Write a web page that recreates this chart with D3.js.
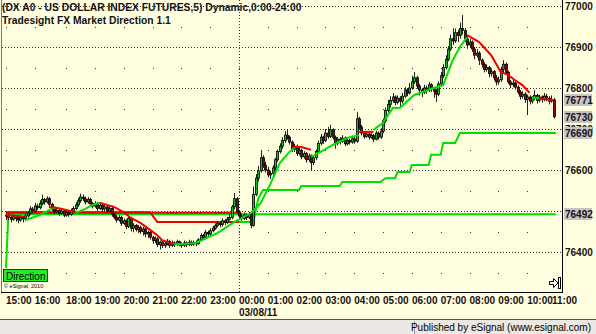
<!DOCTYPE html>
<html>
<head>
<meta charset="utf-8">
<script src="https://cdnjs.cloudflare.com/ajax/libs/d3/7.8.5/d3.min.js"></script>
<style>
body { margin: 0; background: #ece9e4; overflow: hidden; }
text { font-family: Arial, "Liberation Sans", sans-serif; }
</style>
</head>
<body>
<div id="chart"></div>
<script>
width = 596;
height = 334;

// plot frame
plotLeft = 2;
plotRight = 562;
plotBottom = 292;

var titleLines = ["(DX A0 - US DOLLAR INDEX FUTURES,5) Dynamic,0:00-24:00", "Tradesight FX Market Direction 1.1"];

// hour ticks, as bar numbers (5 minute bars, the 17:00 hour is missing)
var hourLabels = ["15:00","16:00","18:00","19:00","20:00","21:00","22:00","23:00","00:00","01:00","02:00","03:00","04:00","05:00","06:00","07:00","08:00","09:00","10:00","11:00"];
var hourBars = [0,12,25,37,49,61,73,85,97,109,121,133,145,157,169,181,193,205,217,229];
var dayBreakBar = 97;
var dayLabel = "03/08/11";

// 76500 sits fully under the 76492 box in the original, so it is not printed
var priceTicks = [77000, 76900, 76800, 76700, 76600, 76500, 76400];
var printedTicks = [77000, 76900, 76800, 76700, 76600, 76400];
var halfTicks = [76950, 76850, 76750, 76650, 76550, 76450, 76350];
var markerPrices = [76771, 76730, 76690, 76492];

// open, high, low, close of each 5 minute bar
var ohlc = [
[76488,76496,76478,76490],[76490,76494,76478,76484],[76484,76488,76472,76480],[76480,76492,76476,76486],[76486,76490,76474,76482],
[76482,76486,76470,76478],[76478,76490,76474,76484],[76484,76488,76472,76481],[76481,76494,76476,76488],[76488,76500,76484,76495],
[76495,76512,76490,76505],[76505,76510,76494,76500],[76500,76520,76496,76512],[76512,76518,76502,76508],[76508,76526,76504,76518],
[76518,76540,76514,76528],[76528,76532,76515,76522],[76522,76536,76518,76530],[76530,76534,76510,76516],[76516,76520,76500,76505],
[76505,76510,76492,76498],[76498,76508,76494,76502],[76502,76506,76488,76494],[76494,76505,76490,76500],[76500,76504,76485,76490],
[76490,76500,76486,76496],[76496,76500,76486,76492],[76492,76506,76488,76500],[76500,76512,76496,76506],[76506,76522,76502,76515],
[76515,76532,76510,76525],[76525,76542,76520,76534],[76534,76540,76524,76530],[76530,76535,76516,76522],[76522,76534,76518,76528],
[76528,76532,76512,76518],[76518,76522,76506,76512],[76512,76524,76508,76518],[76518,76522,76500,76506],[76506,76520,76502,76514],
[76514,76518,76498,76505],[76505,76515,76500,76510],[76510,76514,76494,76500],[76500,76512,76496,76506],[76506,76510,76486,76492],
[76492,76496,76480,76485],[76485,76490,76472,76478],[76478,76490,76474,76484],[76484,76488,76464,76470],[76470,76482,76466,76476],
[76476,76480,76456,76462],[76462,76488,76458,76482],[76482,76486,76450,76458],[76458,76470,76448,76465],[76465,76468,76450,76455],
[76455,76466,76446,76460],[76460,76464,76444,76450],[76450,76462,76440,76456],[76456,76460,76436,76444],[76444,76452,76434,76448],
[76448,76452,76430,76436],[76436,76440,76420,76428],[76428,76438,76422,76432],[76432,76436,76412,76418],[76418,76428,76406,76424],
[76424,76428,76410,76416],[76416,76426,76410,76420],[76420,76432,76416,76426],[76426,76430,76410,76416],[76416,76428,76412,76422],
[76422,76426,76412,76418],[76418,76430,76414,76425],[76425,76428,76414,76420],[76420,76424,76410,76416],[76416,76428,76412,76422],
[76422,76426,76412,76418],[76418,76430,76414,76424],[76424,76428,76414,76419],[76419,76428,76415,76423],[76423,76428,76414,76420],
[76420,76434,76418,76430],[76430,76446,76426,76440],[76440,76444,76430,76436],[76436,76454,76432,76448],[76448,76452,76438,76444],
[76444,76458,76440,76452],[76452,76464,76448,76458],[76458,76470,76454,76464],[76464,76476,76460,76470],[76470,76474,76460,76467],
[76467,76482,76462,76476],[76476,76480,76466,76472],[76472,76486,76468,76480],[76480,76492,76476,76484],[76484,76515,76480,76510],
[76510,76544,76504,76530],[76530,76534,76494,76498],[76498,76502,76482,76488],[76488,76494,76476,76482],[76482,76496,76478,76490],
[76490,76494,76478,76484],[76484,76498,76480,76492],[76492,76496,76458,76465],[76465,76560,76462,76540],[76540,76590,76536,76580],
[76580,76610,76572,76598],[76598,76649,76594,76630],[76630,76636,76605,76612],[76612,76620,76594,76600],[76600,76608,76582,76588],
[76588,76598,76578,76592],[76592,76612,76586,76605],[76605,76630,76600,76625],[76625,76650,76620,76645],[76645,76665,76640,76658],
[76658,76680,76652,76672],[76672,76695,76666,76685],[76685,76698,76674,76680],[76680,76684,76662,76668],[76668,76672,76644,76650],
[76650,76664,76644,76658],[76658,76662,76634,76640],[76640,76654,76636,76648],[76648,76652,76626,76632],[76632,76646,76628,76640],
[76640,76644,76618,76625],[76625,76640,76620,76634],[76634,76638,76600,76618],[76618,76636,76612,76630],[76630,76650,76624,76645],
[76645,76672,76640,76665],[76665,76688,76660,76680],[76680,76684,76664,76672],[76672,76700,76668,76690],[76690,76705,76676,76682],
[76682,76710,76678,76698],[76698,76702,76674,76680],[76680,76684,76652,76665],[76665,76680,76660,76675],[76675,76680,76662,76670],
[76670,76685,76666,76678],[76678,76682,76658,76664],[76664,76678,76660,76672],[76672,76676,76662,76668],[76668,76684,76664,76676],
[76676,76680,76664,76670],[76670,76741,76666,76725],[76725,76730,76700,76705],[76705,76710,76684,76690],[76690,76694,76676,76682],
[76682,76694,76678,76688],[76688,76692,76674,76680],[76680,76690,76676,76684],[76684,76688,76668,76675],[76675,76696,76672,76690],
[76690,76694,76674,76680],[76680,76702,76676,76695],[76695,76726,76690,76720],[76720,76752,76715,76745],[76745,76771,76740,76760],
[76760,76780,76752,76770],[76770,76788,76764,76778],[76778,76782,76758,76765],[76765,76782,76760,76775],[76775,76780,76754,76768],
[76768,76788,76762,76780],[76780,76802,76776,76795],[76795,76800,76780,76788],[76788,76812,76784,76800],[76800,76830,76796,76815],
[76815,76839,76810,76825],[76825,76830,76798,76805],[76805,76810,76782,76795],[76795,76800,76778,76790],[76790,76808,76785,76800],
[76800,76806,76786,76795],[76795,76815,76790,76808],[76808,76812,76790,76798],[76798,76802,76776,76792],[76792,76798,76766,76785],
[76785,76816,76780,76810],[76810,76839,76805,76830],[76830,76858,76824,76850],[76850,76880,76845,76870],[76870,76902,76865,76895],
[76895,76930,76890,76920],[76920,76946,76905,76915],[76915,76945,76910,76935],[76935,76942,76912,76928],[76928,76960,76920,76945],
[76945,76978,76930,76940],[76940,76946,76912,76920],[76920,76929,76896,76905],[76905,76920,76898,76912],[76912,76916,76888,76895],
[76895,76900,76870,76880],[76880,76895,76874,76885],[76885,76890,76856,76868],[76868,76872,76850,76858],[76858,76863,76838,76845],
[76845,76858,76840,76850],[76850,76854,76826,76835],[76835,76848,76828,76840],[76840,76844,76818,76825],[76825,76832,76806,76815],
[76815,76828,76808,76820],[76820,76852,76815,76845],[76845,76868,76838,76858],[76858,76862,76832,76838],[76838,76842,76810,76815],
[76815,76820,76800,76808],[76808,76820,76802,76812],[76812,76816,76796,76802],[76802,76806,76784,76790],[76790,76795,76772,76780],
[76780,76792,76774,76785],[76785,76790,76764,76772],[76772,76784,76734,76778],[76778,76782,76760,76768],[76768,76780,76762,76775],
[76775,76795,76770,76782],[76782,76786,76762,76770],[76770,76784,76765,76778],[76778,76782,76764,76772],[76772,76788,76768,76780],
[76780,76786,76768,76775],[76775,76780,76760,76768],[76768,76782,76764,76771],[76771,76776,76726,76730]
];

// market direction line: [bar, price] runs, "up" drawn green, "down" drawn red
var trendLine = [
  ["down", [[0,76490],[8,76486]]],
  ["up",   [[8,76478],[14,76490],[19,76505],[21,76510]]],
  ["down", [[18,76510],[22,76507],[29,76497]]],
  ["up",   [[29,76495],[33,76505],[36,76515],[39,76520]]],
  ["down", [[39,76520],[42,76515],[45,76510],[49,76497],[52,76483],[56,76471],[60,76454],[63,76441],[65,76429],[70,76419]]],
  ["up",   [[70,76419],[75,76420],[79,76422],[88,76446],[95,76473],[102,76495],[106,76519],[110,76565],[114,76617],[118,76644],[120,76654]]],
  ["down", [[120,76656],[123,76656],[127,76649]]],
  ["up",   [[127,76632],[131,76644],[136,76661],[142,76678],[147,76685]]],
  ["down", [[147,76693],[153,76693]]],
  ["up",   [[153,76698],[157,76715],[161,76751],[164,76752],[170,76783],[178,76800],[182,76807],[186,76868],[189,76900],[192,76924]]],
  ["down", [[192,76929],[197,76912],[202,76880],[206,76839],[209,76832],[212,76819],[215,76807],[218,76788]]],
  ["up",   [[219,76776],[222,76776]]],
  ["down", [[222,76774],[228,76771]]]
];

// stepped direction levels
var stepLine = [
  ["down", [[0,76497],[60,76497],[63,76473],[97,76473]]],
  ["up",   [[97,76473],[103,76473],[105,76530],[107,76551],[122,76551],[123,76561],[139,76561],[140,76571],[156,76571],[158,76580],[162,76580],[163,76595],[168,76595],[169,76612],[176,76612],[177,76637],[181,76637],[182,76666],[187,76666],[189,76690],[229,76690]]]
];
var levelLine = [
  ["up",   [[0,76361],[1,76492],[229,76492]]],
  ["down", [[0,76496],[97,76496]]]
];

var lineColor = {up: "#00e000", down: "#ee0000"};

var svg = d3.select("#chart")
    .append("svg")
    .attr("width", width)
    .attr("height", height);

var xs = d3.scaleLinear().domain([0, 229]).range([6, 556]);
var ys = d3.scaleLinear().domain([76800, 76400]).range([88, 252]);

// backgrounds
svg.append("rect").attr("x", 0).attr("y", 0).attr("width", width).attr("height", 319).attr("fill", "#ffffe0");
svg.append("rect").attr("x", 0).attr("y", 319).attr("width", width).attr("height", height - 319).attr("fill", "#ece9e4");
svg.append("line").attr("x1", 0).attr("x2", width).attr("y1", 319.5).attr("y2", 319.5).attr("stroke", "#555");
svg.append("line").attr("x1", 414.5).attr("x2", 414.5).attr("y1", 321).attr("y2", height).attr("stroke", "#999");

var plot = svg.append("g").attr("id", "plot");

// grid
plot.selectAll("line.grid")
    .data(priceTicks)
    .enter()
    .append("line")
    .attr("class", "grid")
    .attr("x1", plotLeft).attr("x2", plotRight)
    .attr("y1", d => Math.round(ys(d)) + 0.5).attr("y2", d => Math.round(ys(d)) + 0.5)
    .attr("stroke", "#333")
    .attr("stroke-dasharray", "1,2");

plot.append("line")
    .attr("x1", Math.round(xs(dayBreakBar)) + 0.5).attr("x2", Math.round(xs(dayBreakBar)) + 0.5)
    .attr("y1", 0).attr("y2", plotBottom)
    .attr("stroke", "#333")
    .attr("stroke-dasharray", "1,2");

halfTicks.forEach(function(p) {
    plot.selectAll(null)
        .data(hourBars.slice(0, -1))
        .enter()
        .append("rect")
        .attr("x", d => Math.round(xs(d)))
        .attr("y", Math.round(ys(p)))
        .attr("width", 1).attr("height", 1)
        .attr("fill", "#333");
});

var line = d3.line()
    .x(d => xs(d[0]))
    .y(d => ys(d[1]));

function drawRuns(runs, w) {
    plot.selectAll(null)
        .data(runs)
        .enter()
        .append("path")
        .attr("d", d => line(d[1]))
        .attr("fill", "none")
        .attr("stroke", d => lineColor[d[0]])
        .attr("stroke-width", w);
}

drawRuns(levelLine, 2);
drawRuns(stepLine, 2);

// candles
var bars = plot.selectAll("g.bar")
    .data(ohlc)
    .enter()
    .append("g")
    .attr("class", "bar");

bars.append("line")
    .attr("x1", (d, i) => Math.round(xs(i)) + 0.5)
    .attr("x2", (d, i) => Math.round(xs(i)) + 0.5)
    .attr("y1", d => ys(d[1]))
    .attr("y2", d => ys(d[2]))
    .attr("stroke", "#222")
    .attr("stroke-width", 1);

bars.append("rect")
    .attr("x", (d, i) => Math.round(xs(i)) - 0.5)
    .attr("width", 2)
    .attr("y", d => ys(Math.max(d[0], d[3])))
    .attr("height", d => Math.max(1, Math.abs(ys(d[0]) - ys(d[3]))))
    .attr("fill", d => d[3] >= d[0] ? "#10c010" : "#9a0000")
    .attr("stroke", "#000")
    .attr("stroke-width", 0.8);

drawRuns(trendLine, 2);

// frame
plot.append("line").attr("x1", 1.5).attr("x2", 1.5).attr("y1", 0).attr("y2", plotBottom).attr("stroke", "#777");
plot.append("line").attr("x1", plotRight + 0.5).attr("x2", plotRight + 0.5).attr("y1", 0).attr("y2", plotBottom + 1).attr("stroke", "#000");
plot.append("line").attr("x1", 1).attr("x2", plotRight + 1).attr("y1", plotBottom + 0.5).attr("y2", plotBottom + 0.5).attr("stroke", "#000");

// titles
svg.selectAll("text.title")
    .data(titleLines)
    .enter()
    .append("text")
    .attr("class", "title")
    .attr("x", 2)
    .attr("y", (d, i) => 11 + i * 13)
    .style("font-size", "10.3px")
    .style("font-weight", "bold")
    .style("fill", "#111")
    .text(d => d);

// price axis
svg.selectAll("text.ptick")
    .data(printedTicks)
    .enter()
    .append("text")
    .attr("class", "ptick")
    .attr("x", 565)
    .attr("y", d => ys(d) + 4)
    .style("font-size", "10px")
    .style("font-weight", "bold")
    .style("fill", "#1a1010")
    .text(d => d);

var markers = svg.selectAll("g.marker")
    .data(markerPrices)
    .enter()
    .append("g")
    .attr("class", "marker");

markers.append("rect")
    .attr("x", 564)
    .attr("y", d => Math.round(ys(d)) - 6)
    .attr("width", 28)
    .attr("height", 12)
    .attr("fill", "#c4c4c4");

markers.append("text")
    .attr("x", 565)
    .attr("y", d => ys(d) + 4)
    .style("font-size", "10px")
    .style("font-weight", "bold")
    .style("fill", "#1a1010")
    .text(d => d);

// time axis
svg.selectAll("text.htick")
    .data(hourLabels)
    .enter()
    .append("text")
    .attr("class", "htick")
    .attr("x", (d, i) => Math.min(xs(hourBars[i]), plotRight - 10))
    .attr("y", 304)
    .style("font-size", "10px")
    .style("font-weight", "bold")
    .style("fill", "#1a1010")
    .text(d => d);

svg.append("text")
    .attr("x", xs(dayBreakBar))
    .attr("y", 316)
    .style("font-size", "10px")
    .style("font-weight", "bold")
    .style("fill", "#1a1010")
    .text(dayLabel);

// direction tag
svg.append("rect")
    .attr("x", 3.5).attr("y", 269.5)
    .attr("width", 44).attr("height", 12)
    .attr("fill", "#22ee22")
    .attr("stroke", "#114411");

svg.append("text")
    .attr("x", 6).attr("y", 279.5)
    .style("font-size", "10px")
    .style("fill", "#000")
    .text("Direction");

svg.append("text")
    .attr("x", 4).attr("y", 288)
    .style("font-size", "5.5px")
    .style("fill", "#000")
    .text("\u00a9 eSignal, 2010");

// scroll arrow
svg.append("path")
    .attr("d", "M549.5,281.5 h4 v-3 l4.5,4.5 l-4.5,4.5 v-3 h-4 z")
    .attr("fill", "#fff")
    .attr("stroke", "#000");
svg.append("rect")
    .attr("x", 558.5).attr("y", 277.5)
    .attr("width", 2).attr("height", 11)
    .attr("fill", "#fff")
    .attr("stroke", "#000");

// status bar
svg.append("text")
    .attr("x", 591)
    .attr("y", 331)
    .attr("text-anchor", "end")
    .style("font-size", "10px")
    .style("fill", "#000")
    .text("Published by eSignal (www.esignal.com)");
</script>
</body>
</html>
